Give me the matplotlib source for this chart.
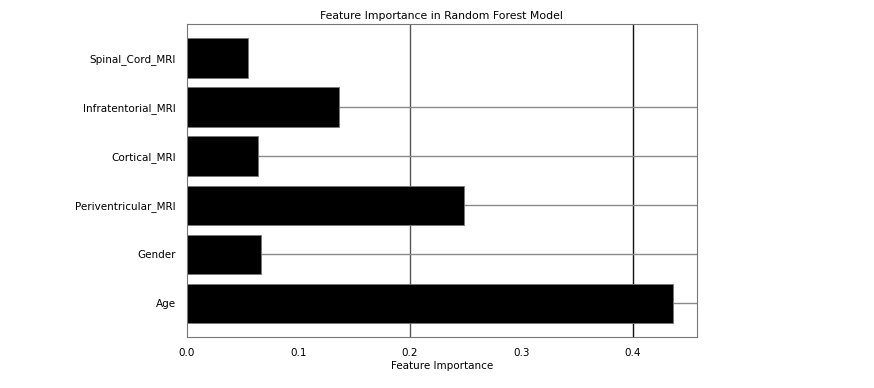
import numpy as np
import matplotlib
matplotlib.use('Agg')
import matplotlib.pyplot as plt

features = ['Age', 'Gender', 'Periventricular_MRI', 'Cortical_MRI',
            'Infratentorial_MRI', 'Spinal_Cord_MRI']
importance = [0.436, 0.0665, 0.248, 0.0637, 0.136, 0.0547]
xticks = [0.0, 0.1, 0.2, 0.3, 0.4]
grid_x = [0.2, 0.4]

plt.rcParams['font.size'] = 7.5

fig = plt.figure(figsize=(8.74, 3.88), dpi=100)
ax = fig.add_axes([0.214, 0.131, 0.583, 0.807])

y = np.arange(len(features))
ax.grid(axis='y', color='#8a8a8a', linewidth=1.0, zorder=0)
for gx, c in zip(grid_x, ['#555555', '#111111']):
    ax.axvline(gx, color=c, linewidth=1.0, zorder=0)
ax.barh(y, importance, height=0.8, color='black', edgecolor='#777777',
        linewidth=0.6, zorder=2)

ax.set_yticks(y)
ax.set_yticklabels(features)
ax.set_xticks(xticks)
ax.set_xlim(0, 0.457)
ax.tick_params(length=0, pad=8)
# top row has no horizontal grid line in the original
ax.get_ygridlines()[-1].set_visible(False)
for s in ax.spines.values():
    s.set_color('#777777')
ax.set_xlabel('Feature Importance', labelpad=2)
ax.set_title('Feature Importance in Random Forest Model', fontsize=7.8, pad=4)

plt.savefig('out.png', dpi=100)
